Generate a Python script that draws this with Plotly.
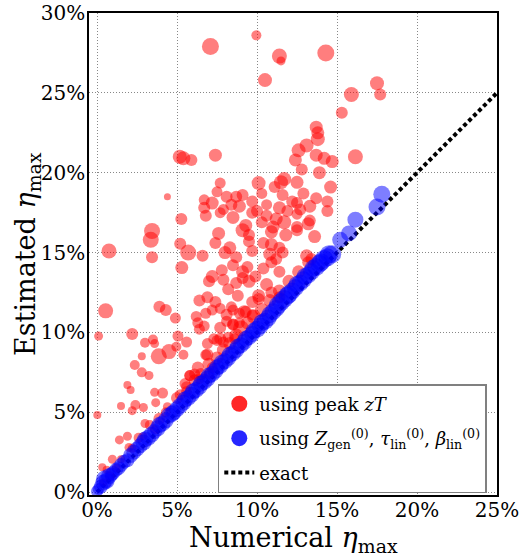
import plotly.graph_objects as go

# ---- data (values in percent) ----
red_x = [9.96, 7.09, 11.4, 11.5, 14.3, 10.5, 17.5, 15.9, 17.7, 15.3, 13.7, 13.8, 13.8, 13.1, 12.6, 16.15,
         5.17, 5.4, 5.9, 7.4, 13.7, 14.2, 14.7, 12.4, 12.8, 13.9, 10.1, 11.5, 11.7, 12.5, 14.6, 7.7, 7.5,
         4.4, 11.1, 10.3, 8.7, 9.1, 6.7, 8.1, 9.7, 11.6, 12.5, 12.9, 13.7, 14.4,
         6.7, 7.2, 7.9, 8.4, 8.9, 10.0, 10.6, 11.4, 12.2, 12.7, 13.3, 14.4,
         6.8, 7.7, 8.5, 9.7, 10.6, 11.2, 11.9, 12.5, 13.3,
         5.27, 3.44, 3.36, 3.44, 5.2, 5.7, 5.3,
         9.3, 10.3, 11.0, 11.7, 12.5, 13.2,
         7.6, 9.1, 9.5, 10.9, 11.8, 12.5, 13.6,
         7.4, 8.3, 9.5, 10.9, 11.4, 10.4,
         6.6, 8.0, 8.7, 9.7, 10.8, 11.2, 11.6, 13.1, 13.4, 10.9,
         7.8, 8.5, 9.1, 9.4, 10.4, 11.4,
         7.0, 7.2, 7.9, 8.7, 9.1, 9.5, 9.9,
         8.2, 10.9,
         6.9, 7.4, 6.4, 8.8, 10.1, 11.4, 9.7,
         6.8, 7.7, 8.1, 8.5, 8.9, 9.3, 9.7, 8.4, 6.2, 7.2,
         6.3, 6.7, 8.1, 7.7, 8.5, 8.9, 6.4,
         7.3, 7.9, 8.2, 7.5, 6.9, 8.6,
         6.8, 7.2, 7.0, 6.1, 6.4, 5.8,
         0.75, 0.54, 0.1, 0.02, 3.9, 4.3, 4.9, 2.2, 3.0, 3.5, 3.6, 3.86, 4.5, 5.06, 5.6, 4.96, 5.4,
         2.8, 2.36, 2.8, 3.25, 1.9, 2.1, 3.6, 4.1, 3.67, 1.5, 2.4, 2.2, 2.9, 4.4, 3.9, 3.0, 3.6,
         1.4, 1.9, 2.9, 2.2, 0.96, 1.5, 0.33, 0.6, 5.2, 5.6, 5.8, 5.5,
         0.4, 0.8, 1.2, 2.0, 2.6, 3.3, 4.3, 5.0, 5.6, 6.1, 6.5, 7.0, 7.5, 7.9, 8.3, 8.7, 9.0, 9.4,
         9.8, 10.3, 10.8, 11.4, 12.0, 12.6, 13.2, 6.3, 6.9, 7.7, 8.5, 9.2, 10.1, 10.6]
red_y = [28.6, 27.9, 27.3, 27.0, 27.5, 25.8, 25.6, 24.9, 24.9, 23.75, 22.85, 22.5, 22.1, 21.7, 21.4, 21.0,
         21.0, 20.9, 20.8, 21.1, 21.1, 20.9, 20.7, 20.8, 20.2, 20.0, 19.35, 19.4, 19.6, 19.4, 19.1, 19.35, 18.8,
         18.5, 19.1, 18.7, 18.5, 18.6, 18.3, 18.5, 18.2, 18.6, 18.1, 18.7, 18.4, 18.2,
         17.8, 18.1, 17.7, 18.0, 17.9, 17.6, 18.0, 17.8, 18.2, 17.7, 17.9, 17.6,
         17.3, 17.5, 17.2, 17.5, 17.3, 17.1, 17.6, 17.4, 17.0,
         17.1, 16.35, 15.8, 14.7, 15.55, 15.0, 14.06,
         16.7, 16.9, 16.6, 16.9, 16.6, 16.8,
         16.2, 16.4, 16.1, 16.3, 16.1, 16.4, 16.0,
         15.6, 15.3, 15.7, 15.5, 15.3, 15.6,
         14.8, 15.0, 14.7, 15.1, 14.9, 14.6, 15.0, 14.8, 14.6, 14.4,
         13.9, 14.2, 13.8, 14.1, 14.0, 13.8,
         13.2, 13.5, 13.3, 13.1, 13.4, 13.2, 13.5,
         12.7, 12.5,
         12.2, 11.9, 12.0, 12.3, 12.1, 12.2, 11.9,
         11.2, 11.5, 11.1, 11.4, 11.2, 11.3, 11.1, 11.6, 11.0, 11.4,
         10.6, 10.4, 10.7, 10.3, 10.5, 10.6, 10.2,
         9.6, 9.4, 9.7, 9.5, 9.3, 9.6,
         8.6, 7.8, 7.4, 7.4, 7.1, 7.3,
         15.1, 11.35, 9.77, 4.83, 11.6, 11.4, 10.9, 9.9, 9.35, 9.55, 9.3, 8.5, 8.8, 9.77, 9.4, 9.1, 8.6,
         8.5, 7.96, 7.5, 7.3, 6.7, 6.4, 6.25, 6.2, 5.6, 5.4, 5.45, 5.1, 5.3, 5.35, 4.6, 4.3, 3.9,
         3.27, 3.5, 3.5, 2.75, 2.06, 2.06, 1.56, 1.4, 6.1, 6.3, 7.3, 6.8,
         0.6, 1.0, 1.5, 2.8, 3.4, 4.2, 5.0, 5.9, 6.6, 7.0, 7.4, 8.0, 8.4, 8.9, 9.3, 9.8, 10.25, 10.6,
         11.0, 11.4, 12.0, 12.6, 13.2, 13.8, 14.4, 7.8, 8.6, 9.6, 10.5, 11.3, 12.3, 13.0]
red_size = [10, 17, 15, 9, 17, 14, 14, 15, 12, 12, 13, 13, 14, 14, 14, 15,
            14, 14, 12, 13, 13, 13, 13, 13, 12, 13, 14, 14, 14, 13, 13, 11, 11,
            7, 12, 11, 12, 12, 11, 12, 12, 12, 12, 12, 12, 12,
            12, 13, 11, 12, 13, 12, 11, 13, 12, 12, 13, 12,
            12, 11, 13, 12, 12, 13, 12, 11, 12,
            12, 16, 16, 12, 12, 16, 13,
            13, 12, 13, 14, 12, 13,
            13, 14, 12, 13, 13, 12, 13,
            12, 13, 12, 13, 12, 12,
            12, 13, 12, 12, 13, 12, 12, 13, 12, 12,
            12, 12, 13, 12, 12, 12,
            12, 13, 12, 12, 12, 13, 12,
            12, 12,
            12, 12, 12, 12, 12, 12, 12,
            11, 11, 12, 11, 11, 12, 11, 11, 11, 11,
            11, 11, 11, 12, 11, 11, 11,
            11, 11, 11, 11, 11, 11,
            11, 11, 11, 11, 11, 11,
            15, 15, 9, 8, 12, 12, 11, 12, 10, 10, 9, 16, 15, 11, 11, 10, 10,
            8, 10, 10, 9, 8, 8, 9, 11, 9, 8, 10, 9, 9, 9, 12, 9, 9,
            9, 9, 8, 9, 9, 8, 8, 8, 11, 11, 11, 11,
            8, 10, 9, 9, 10, 10, 10, 12, 11, 12, 12, 13, 13, 13, 13, 14, 16, 13,
            14, 14, 13, 13, 13, 13, 12, 12, 12, 12, 12, 13, 13, 13]

blue_x = [0.0, 0.1, 0.25, 0.4, 0.5, 0.6, 0.75, 0.9, 1.0, 1.2, 1.35, 1.5, 1.7, 1.9, 2.1, 2.3, 2.5, 2.7,
          2.9, 3.0, 3.2, 3.4, 3.6, 3.8, 3.9, 4.1, 4.3, 4.5, 4.7, 4.8, 5.0, 5.2, 5.4, 5.5, 5.7, 5.9,
          6.0, 6.2, 6.4, 6.5, 6.7, 6.9, 7.0, 7.2, 7.4, 7.5, 7.7, 7.8, 8.0, 8.2, 8.3, 8.5, 8.7, 8.8,
          9.0, 9.2, 9.3, 9.5, 9.7, 9.8, 10.0, 10.2, 10.3, 10.5, 10.7, 10.8, 11.0, 11.2, 11.3, 11.5,
          11.7, 11.9, 12.0, 12.2, 12.4, 12.5, 12.7, 12.9, 13.0, 13.2, 13.4, 13.5, 13.7, 13.9, 14.0,
          14.2, 14.4, 14.5, 14.7, 15.2, 15.75, 16.15, 17.5, 17.8]
blue_y = [0.05, 0.2, 0.35, 0.6, 0.8, 0.7, 1.0, 1.1, 1.2, 1.4, 1.5, 1.7, 1.9, 2.0, 2.3, 2.5, 2.7, 2.9,
          3.1, 3.3, 3.4, 3.6, 3.8, 4.0, 4.2, 4.3, 4.5, 4.8, 4.9, 5.0, 5.2, 5.4, 5.6, 5.8, 5.9, 6.1,
          6.3, 6.4, 6.6, 6.8, 6.9, 7.1, 7.3, 7.4, 7.6, 7.8, 7.9, 8.1, 8.2, 8.4, 8.6, 8.7, 8.9, 9.1,
          9.2, 9.4, 9.6, 9.7, 9.9, 10.1, 10.2, 10.4, 10.6, 10.7, 10.9, 11.1, 11.3, 11.5, 11.7, 11.9,
          12.1, 12.3, 12.4, 12.6, 12.8, 13.0, 13.1, 13.3, 13.5, 13.6, 13.8, 14.0, 14.1, 14.3, 14.4,
          14.6, 14.7, 14.9, 14.9, 15.8, 16.2, 17.06, 17.85, 18.65]
blue_size = [12, 12, 14, 16, 18, 16, 16, 14, 14, 14, 14, 14, 14, 14, 15, 15, 15, 15,
             16, 16, 16, 16, 15, 16, 16, 16, 16, 16, 16, 16, 16, 16, 16, 16, 16, 16,
             16, 16, 16, 16, 16, 16, 16, 16, 16, 16, 16, 16, 16, 16, 16, 16, 16, 16,
             16, 16, 16, 16, 16, 16, 17, 17, 17, 17, 17, 17, 17, 17, 18, 18,
             18, 18, 18, 17, 17, 17, 17, 17, 17, 17, 17, 17, 18, 18, 18,
             18, 18, 18, 18, 16, 16, 16, 17, 17]

exact_x = [0.0, 25.0]
exact_y = [0.0, 25.0]

x_ticks = [0, 5, 10, 15, 20, 25]
y_ticks = [0, 5, 10, 15, 20, 25, 30]

x_title = "Numerical <i>η</i><sub>max</sub>"
y_title = "Estimated <i>η</i><sub>max</sub>"


def pct(v):
    return [a / 100.0 for a in v]


FONT = "DejaVu Serif"
W, H = 521, 556
ML, MR, MT, MB = 89, 24, 13, 61
PW, PH = W - ML - MR, H - MT - MB

fig = go.Figure()

fig.add_trace(go.Scatter(x=pct(exact_x), y=pct(exact_y), mode="lines",
                         line=dict(color="black", width=4, dash="4px,3px"),
                         name="exact", legendrank=3, legendgroup="c"))
fig.add_trace(go.Scatter(x=pct(red_x), y=pct(red_y), mode="markers",
                         marker=dict(color="rgba(255,0,0,0.72)", size=red_size, line=dict(width=0)),
                         name="red", showlegend=False))
fig.add_trace(go.Scatter(x=pct(blue_x), y=pct(blue_y), mode="markers",
                         marker=dict(color="rgba(0,0,255,0.72)", size=blue_size, line=dict(width=0)),
                         name="blue", showlegend=False))
# legend entries
fig.add_trace(go.Scatter(x=[None], y=[None], mode="markers",
                         marker=dict(color="rgba(255,0,0,0.85)", size=16),
                         name="using peak <i>zT</i>", legendrank=1, legendgroup="a"))
fig.add_trace(go.Scatter(x=[None], y=[None], mode="markers",
                         marker=dict(color="rgba(0,0,255,0.85)", size=16),
                         name="using <i>Z</i><sub>gen</sub><sup>(0)</sup>, <i>τ</i><sub>lin</sub><sup>(0)</sup>, <i>β</i><sub>lin</sub><sup>(0)</sup>",
                         legendrank=2, legendgroup="b"))

axis_common = dict(showline=True, linecolor="black", linewidth=1.5, mirror=True,
                   showgrid=True, gridcolor="#888", griddash="1px,2px", gridwidth=1,
                   zeroline=False, ticks="", ticklen=0, tickformat=".0%", ticklabeloverflow="allow",
                   automargin=False,
                   tickfont=dict(family=FONT, size=20, color="black"))

fig.update_layout(
    width=W, height=H,
    margin=dict(l=ML, r=MR, t=MT, b=MB),
    paper_bgcolor="white", plot_bgcolor="white",
    font=dict(family=FONT, color="black"),
    xaxis=dict(range=[-0.005, 0.25], tickvals=pct(x_ticks), ticklabelstandoff=-4, **axis_common),
    yaxis=dict(range=[-0.0018, 0.30], tickvals=pct(y_ticks), ticklabelstandoff=-2, **axis_common),
    legend=dict(x=0.975, xanchor="right", y=0.004, yanchor="bottom",
                bgcolor="white", bordercolor="#808080", borderwidth=1.5,
                font=dict(family=FONT, size=18, color="black"),
                tracegroupgap=8, itemwidth=30),
    annotations=[
        dict(text=x_title, xref="paper", yref="paper", x=0.5, y=-(539 - (H - MB)) / PH,
             xanchor="center", yanchor="middle", showarrow=False,
             font=dict(family=FONT, size=27, color="black")),
        dict(text=y_title, xref="paper", yref="paper", x=(27 - ML) / PW, y=0.5,
             xanchor="center", yanchor="middle", showarrow=False, textangle=-90,
             font=dict(family=FONT, size=27, color="black")),
    ],
)

fig.write_html("out.html")
